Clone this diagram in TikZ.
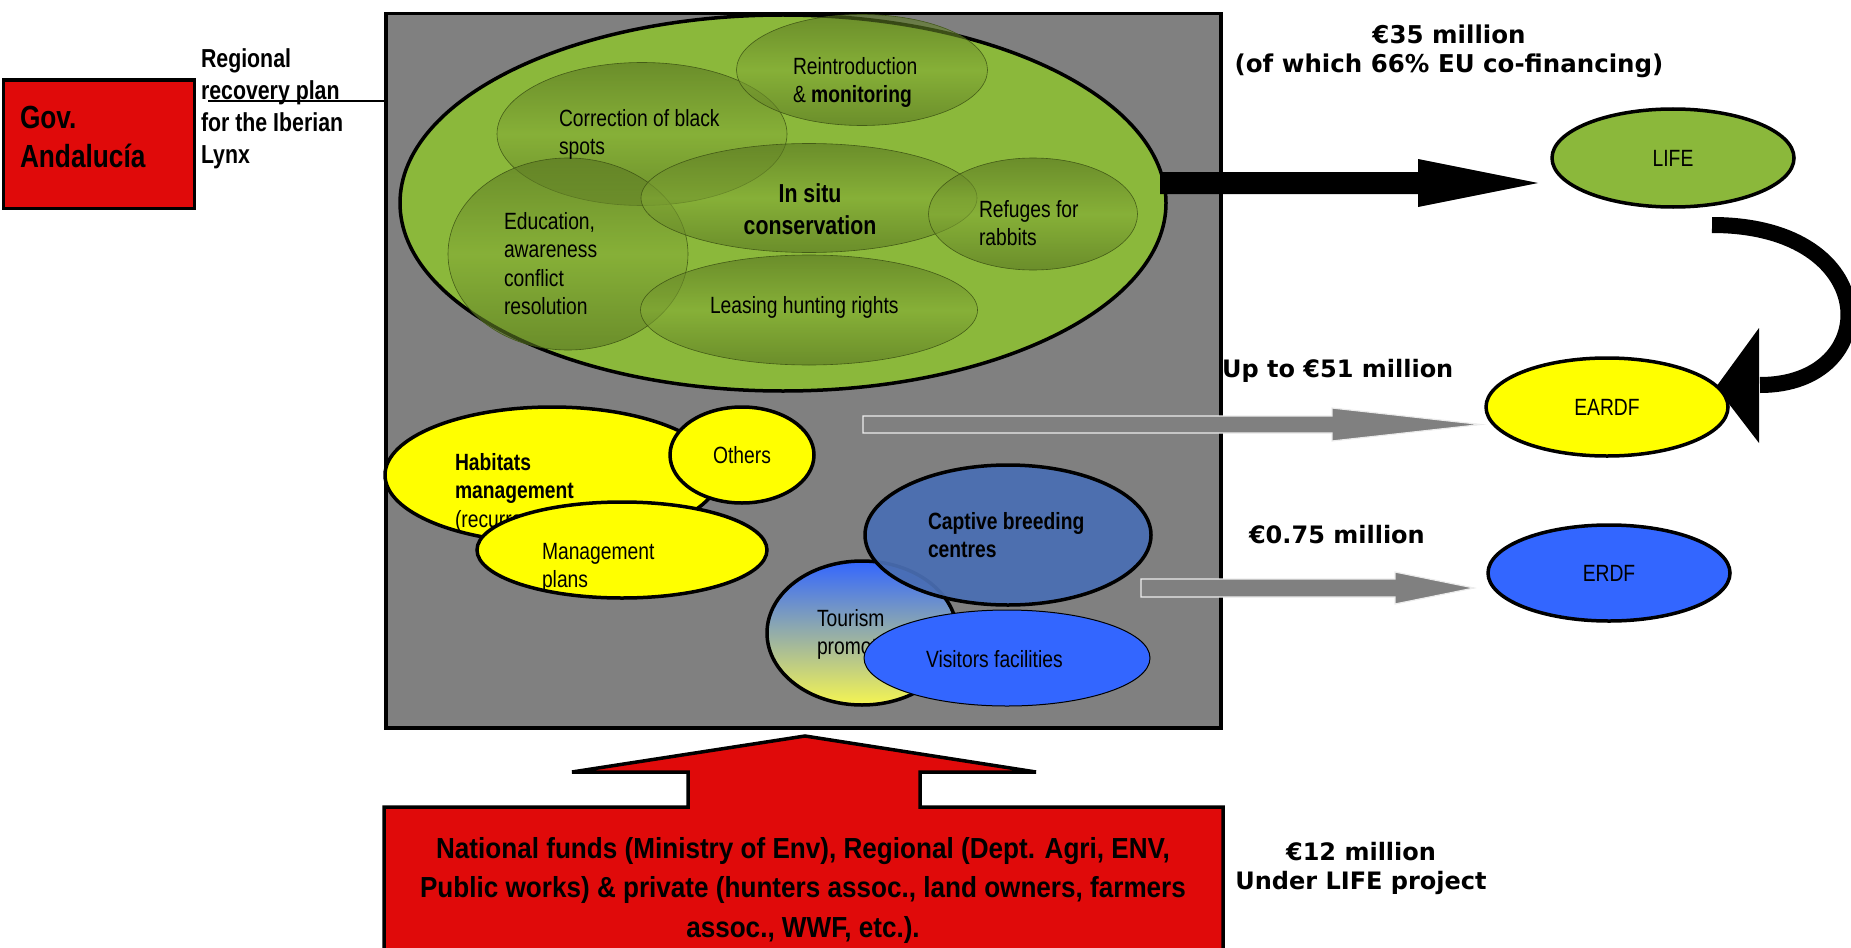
\documentclass[tikz,border=0pt]{standalone}
\usepackage{fontspec}
\setmainfont{Liberation Sans}
\newfontfamily\nar[FakeStretch=0.82]{Liberation Sans}
\newfontfamily\narw[FakeStretch=0.9]{Liberation Sans}
\newfontfamily\verd{DejaVu Sans}
\usetikzlibrary{shapes.geometric}
\definecolor{boxgray}{HTML}{808080}
\definecolor{lgreen}{HTML}{8BB83B}
\definecolor{subtop}{RGB}{86,114,32}
\definecolor{submid}{RGB}{132,171,54}
\definecolor{gred}{HTML}{E00A0A}
\definecolor{yel}{HTML}{FFFF00}
\definecolor{bblue}{HTML}{3366FF}
\definecolor{sblue}{HTML}{4A6EB3}
\definecolor{tyel}{HTML}{F5F552}
\definecolor{tmid}{HTML}{C9CBA8}
\definecolor{subline}{HTML}{3E5414}
\tikzset{
  ell/.style={ellipse, inner sep=0pt, outer sep=0pt},
  heavy/.style={draw=black, line width=3.5pt},
  sub/.style={ell, draw=subline, line width=0.6pt, top color=subtop, bottom color=subtop, middle color=submid, fill opacity=0.6, draw opacity=0.9},
  txt/.style={inner sep=0pt, outer sep=0pt, anchor=north west, align=left},
  ctxt/.style={inner sep=0pt, outer sep=0pt, anchor=north, align=center},
  nreg/.style={font=\nar\fontsize{23.5}{28.5}\selectfont},
  nbold/.style={font=\nar\bfseries\fontsize{23.5}{28.5}\selectfont},
  vlab/.style={font=\verd\bfseries\fontsize{24}{29}\selectfont},
  grayarrow/.style={fill=boxgray, draw=white!85!gray, line width=1.2pt},
}
\begin{document}
\begin{tikzpicture}[x=1pt,y=-1pt]
\useasboundingbox (0,0) rectangle (1851,947);
\clip (0,0) rectangle (1851,947);

% Gov. Andalucia
\node[rectangle, heavy, fill=gred, minimum width=191pt, minimum height=128pt, anchor=north west, inner sep=0pt] (gov) at (1.75,78.5) {};
\node[txt, font=\nar\bfseries\fontsize{32}{39}\selectfont] (govt) at (20,106) {Gov.\\Andaluc\'ia};

% main gray box
\node[rectangle, heavy, fill=boxgray, minimum width=835pt, minimum height=714pt, anchor=north west, inner sep=0pt] (box) at (384,12) {};

% regional plan
\coordinate (planend) at (208,101);
\draw[line width=2.5pt] (planend) -- (planend -| box.west);
\node[txt, font=\nar\bfseries\fontsize{26}{32}\selectfont] (plan) at (201,49) {Regional\\recovery plan\\for the Iberian\\Lynx};

% green area
\node[ell, heavy, fill=lgreen, minimum width=766pt, minimum height=376pt] (green) at (783,203) {};
\draw[fill=black, draw=none] (1160,172) -- (1418,172) -- (1418,159) -- (1538,183) -- (1418,207) -- (1418,194) -- (1160,194) -- cycle;

\node[sub, minimum width=290pt, minimum height=143pt] (corr) at (642,134) {};
\node[sub, minimum width=251pt, minimum height=111pt] (reint) at (862,70) {};
\node[sub, minimum width=240pt, minimum height=192pt] (edu) at (568,254) {};
\node[sub, minimum width=336pt, minimum height=109pt] (insitu) at (809,198) {};
\node[sub, minimum width=337pt, minimum height=110pt] (leas) at (809,310) {};
\node[sub, minimum width=209pt, minimum height=112pt] (refu) at (1033,214) {};

\node[txt, nreg] (corrt) at (559,109) {Correction of black\\spots};
\node[txt, nreg] (reintt) at (793,57) {Reintroduction\\\& \textbf{monitoring}};
\node[ctxt, font=\nar\bfseries\fontsize{26}{32}\selectfont] (insitut) at (810,184) {In situ\\conservation};
\node[txt, nreg] (edut) at (504,212) {Education,\\awareness\\conflict\\resolution};
\node[txt, nreg] (least) at (710,296) {Leasing hunting rights};
\node[txt, nreg] (refut) at (979,200) {Refuges for\\rabbits};

% yellow
\node[ell, heavy, fill=yel, minimum width=334pt, minimum height=136pt] (habit) at (552,475) {};
\node[ell, heavy, fill=yel, minimum width=144pt, minimum height=96pt] (others) at (742,455) {};
\node[txt, nreg] (habitt) at (455,453) {\textbf{Habitats}\\\textbf{management}\\(recurrent)};
\node[ctxt, nreg] (otherst) at (742,446) {Others};
\node[ell, heavy, fill=yel, minimum width=290pt, minimum height=96pt] (mgmt) at (622,550) {};
\node[txt, nreg] (mgmtt) at (542,543) {Management\\plans};

% blue
\node[ell, heavy, top color=bblue, middle color=tmid, bottom color=tyel, minimum width=190pt, minimum height=144pt] (tour) at (862,633) {};
\node[txt, nreg] (tourt) at (817,609) {Tourism\\promotion};
\node[ell, heavy, fill=sblue, fill opacity=0.93, minimum width=286pt, minimum height=140pt] (capt) at (1008,535) {};
\node[txt, nbold] (captt) at (928,512) {Captive breeding\\centres};
\node[ell, draw=black, line width=1pt, fill=bblue, minimum width=286pt, minimum height=96pt] (visit) at (1007,658) {};
\node[txt, nreg] (visitt) at (926,650) {Visitors facilities};

% gray arrows
\draw[grayarrow] (863,416) -- (1332,416) -- (1332,408) -- (1481,424.5) -- (1332,441) -- (1332,433) -- (863,433) -- cycle;
\draw[grayarrow] (1141,579) -- (1395,579) -- (1395,572) -- (1474,588) -- (1395,604) -- (1395,597) -- (1141,597) -- cycle;

% funds
\node[ell, heavy, fill=lgreen, minimum width=242pt, minimum height=98pt] (life) at (1673,158) {};
\draw[line width=16pt] (1712,225) .. controls (1885,225) and (1885,385) .. (1760,385);
\fill (1759,328) -- (1759,443) -- (1716,387) -- cycle;
\node[ell, heavy, fill=yel, minimum width=242pt, minimum height=98pt] (eardf) at (1607,407) {};
\node[ell, heavy, fill=bblue, minimum width=242pt, minimum height=96pt] (erdf) at (1609,573) {};
\node[nreg, inner sep=0pt] (lifet) at (life.center) {LIFE};
\node[nreg, inner sep=0pt] (eardft) at (eardf.center) {EARDF};
\node[nreg, inner sep=0pt] (erdft) at (erdf.center) {ERDF};

% labels
\node[ctxt, font=\verd\bfseries\fontsize{24.5}{29}\selectfont] (lab35) at (1449,25) {€35 million\\(of which 66\% EU co-financing)};
\node[txt, vlab] (lab51) at (1222,359) {Up to €51 million};
\node[txt, vlab] (lab075) at (1249,525) {€0.75 million};
\node[ctxt, vlab] (lab12) at (1361,842) {€12 million\\Under LIFE project};

% bottom red block arrow
\draw[fill=gred, line width=3.5pt, line join=miter] (384,970) -- (384,807) -- (688,807) -- (688,772) -- (572,772) -- (805,736) -- (1036,772) -- (920,772) -- (920,807) -- (1223,807) -- (1223,970);
\node[ctxt, font=\narw\bfseries\fontsize{29}{39.5}\selectfont] (natt) at (803,837) {National funds (Ministry of Env), Regional (Dept. Agri, ENV,\\Public works) \& private (hunters assoc., land owners, farmers\\assoc., WWF, etc.).};
\end{tikzpicture}
\end{document}
